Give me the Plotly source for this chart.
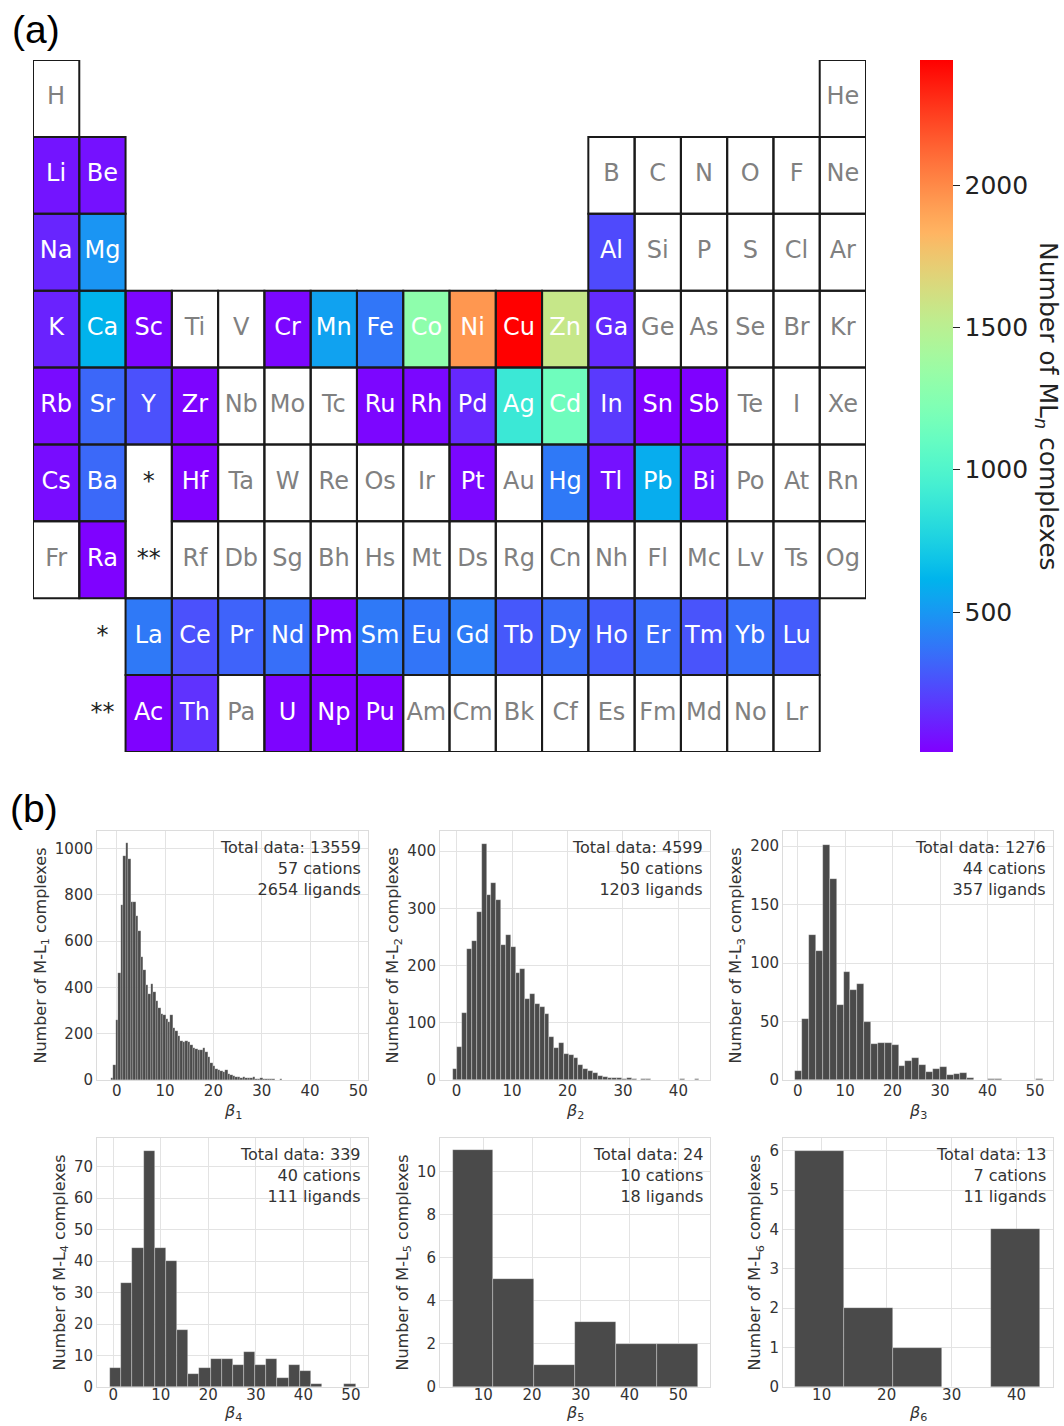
import numpy as np
import plotly.graph_objects as go

# ---------------- (a) periodic table data ----------------
table_rows = [
    "H . . . . . . . . . . . . . . . . He",
    "Li Be . . . . . . . . . . B C N O F Ne",
    "Na Mg . . . . . . . . . . Al Si P S Cl Ar",
    "K Ca Sc Ti V Cr Mn Fe Co Ni Cu Zn Ga Ge As Se Br Kr",
    "Rb Sr Y Zr Nb Mo Tc Ru Rh Pd Ag Cd In Sn Sb Te I Xe",
    "Cs Ba * Hf Ta W Re Os Ir Pt Au Hg Tl Pb Bi Po At Rn",
    "Fr Ra ** Rf Db Sg Bh Hs Mt Ds Rg Cn Nh Fl Mc Lv Ts Og",
    ". * La Ce Pr Nd Pm Sm Eu Gd Tb Dy Ho Er Tm Yb Lu .",
    ". ** Ac Th Pa U Np Pu Am Cm Bk Cf Es Fm Md No Lr .",
]

ml_counts = {
    "Li": 70, "Be": 60, "Na": 120, "Mg": 490, "Al": 235,
    "K": 110, "Ca": 610, "Sc": 27, "Cr": 30, "Mn": 540, "Fe": 380,
    "Co": 1295, "Ni": 1950, "Cu": 2440, "Zn": 1563, "Ga": 140,
    "Rb": 40, "Sr": 330, "Y": 256, "Zr": 20, "Ru": 25, "Rh": 30,
    "Pd": 130, "Ag": 896, "Cd": 1146, "In": 185, "Sn": 10, "Sb": 12,
    "Cs": 45, "Ba": 335, "Hf": 10, "Pt": 30, "Hg": 390, "Tl": 60,
    "Pb": 585, "Bi": 55, "Ra": 15,
    "La": 390, "Ce": 256, "Pr": 317, "Nd": 355, "Pm": 10, "Sm": 390,
    "Eu": 378, "Gd": 400, "Tb": 280, "Dy": 340, "Ho": 290, "Er": 340,
    "Tm": 268, "Yb": 355, "Lu": 293,
    "Ac": 15, "Th": 160, "U": 20, "Np": 8, "Pu": 10,
}
cbar_ticks = [500, 1000, 1500, 2000]

# ---------------- (b) histogram data ----------------
b1_start, b1_width = -1.25, 0.515
b1_counts = [8, 65, 260, 462, 755, 965, 1022, 955, 770, 768,
             708, 645, 530, 475, 410, 370, 415, 380, 340, 310,
             285, 280, 262, 250, 282, 225, 210, 190, 170, 162,
             170, 165, 150, 140, 132, 128, 130, 140, 120, 100,
             75, 60, 48, 45, 38, 35, 42, 25, 20, 16,
             14, 12, 10, 12, 9, 10, 8, 12, 6, 5,
             7, 4, 5, 3, 4, 3, 2, 2, 3, 1,
             2, 1, 1, 0, 1, 1, 0, 1, 0, 1,
             0, 0, 1, 0, 0, 0, 0, 0, 0, 1,
             0, 0, 0, 0, 0, 0, 0, 0, 0, 1]
b2_start, b2_width = -0.72, 0.873
b2_counts = [19, 58, 117, 228, 242, 293, 413, 324, 345, 314,
             235, 253, 233, 187, 194, 141, 151, 133, 127, 116,
             75, 56, 64, 45, 44, 38, 27, 20, 15, 13,
             7, 5, 3, 3, 4, 2, 3, 1, 0, 2,
             1, 0, 0, 0, 0, 0, 0, 1, 0, 0, 1]
b3_start, b3_width = -0.5, 1.45
b3_counts = [8, 52, 124, 110, 201, 172, 64, 92, 77, 82,
             50, 31, 32, 32, 30, 12, 16, 19, 13, 7,
             9, 11, 4, 5, 6, 2, 0, 0, 1, 1,
             0, 0, 0, 0, 0, 1]
b4_start, b4_width = -0.7, 2.35
b4_counts = [6, 33, 44, 75, 44, 40, 18, 4, 6, 9, 9, 7, 11, 7, 9, 3, 7, 5, 1, 0, 0, 1]
b5_start, b5_width = 3.7, 8.38
b5_counts = [11, 5, 1, 3, 2, 2]
b6_start, b6_width = 5.9, 7.54
b6_counts = [6, 2, 1, 0, 4]

total_data = [13559, 4599, 1276, 339, 24, 13]
n_cations = [57, 50, 44, 40, 10, 7]
n_ligands = [2654, 1203, 357, 111, 18, 11]

# ---------------- figure ----------------
W, H = 1064, 1426
fig = go.Figure()


def rainbow(t):
    r = min(1.0, abs(2 * t - 0.5))
    g = np.sin(np.pi * t)
    b = np.cos(np.pi * t / 2)
    return "rgb(%d,%d,%d)" % (round(r * 255), round(g * 255), round(max(b, 0) * 255))


colorscale = [[t, rainbow(t)] for t in np.linspace(0, 1, 41)]

grid = [row.split() for row in table_rows]
nrow, ncol = len(grid), len(grid[0])
z = [[ml_counts.get(sym) if sym in ml_counts else None for sym in row] for row in grid]
vals = list(ml_counts.values())

fig.add_trace(go.Heatmap(
    z=z, x=list(range(ncol)), y=list(range(nrow)),
    colorscale=colorscale, zmin=min(vals), zmax=max(vals),
    hoverinfo="skip",
    colorbar=dict(
        x=920 / W, xanchor="left", y=1 - 406 / H, yanchor="middle",
        len=692, lenmode="pixels", thickness=33, thicknessmode="pixels",
        xpad=0, ypad=0, outlinewidth=0,
        tickvals=cbar_ticks, ticks="outside", ticklen=7, tickwidth=1.2,
        tickcolor="#222", tickfont=dict(size=25, color="#222", family="DejaVu Sans"),
    ),
    xaxis="x", yaxis="y",
))

tx, ty, tt, tc = [], [], [], []
shapes = []
for r, row in enumerate(grid):
    for c, sym in enumerate(row):
        if sym == ".":
            continue
        tx.append(c); ty.append(r); tt.append(sym)
        if sym in ("*", "**"):
            tc.append("#222222")
            if r < 7 and sym == "*":
                shapes.append(dict(type="rect", xref="x", yref="y", x0=c - 0.5, x1=c + 0.5,
                                   y0=r - 0.5, y1=r + 1.5, line=dict(color="#1a1a1a", width=2),
                                   layer="above"))
            continue
        tc.append("white" if sym in ml_counts else "#808080")
        shapes.append(dict(type="rect", xref="x", yref="y", x0=c - 0.5, x1=c + 0.5,
                           y0=r - 0.5, y1=r + 0.5, line=dict(color="#1a1a1a", width=2),
                           layer="above"))

fig.add_trace(go.Scatter(
    x=tx, y=ty, text=tt, mode="text", textposition="middle center",
    textfont=dict(size=24, color=tc, family="DejaVu Sans"),
    hoverinfo="skip", showlegend=False, xaxis="x", yaxis="y",
))

layout = dict(
    width=W, height=H, margin=dict(l=0, r=0, t=0, b=0, autoexpand=False),
    paper_bgcolor="white", plot_bgcolor="white", showlegend=False,
    xaxis=dict(domain=[33 / W, 866 / W], range=[-0.5, ncol - 0.5], visible=False,
               fixedrange=True, automargin=False),
    yaxis=dict(domain=[1 - 752 / H, 1 - 60 / H], range=[nrow - 0.5, -0.5], visible=False,
               fixedrange=True, automargin=False),
    shapes=shapes,
)

annotations = [
    dict(text="(a)", xref="paper", yref="paper", x=10 / W, y=1 - 6 / H, xanchor="left", yanchor="top",
         showarrow=False, font=dict(size=39, color="black", family="Liberation Sans")),
    dict(text="(b)", xref="paper", yref="paper", x=8 / W, y=1 - 785 / H, xanchor="left", yanchor="top",
         showarrow=False, font=dict(size=39, color="black", family="Liberation Sans")),
    dict(text="Number of ML<sub><i>n</i></sub> complexes", xref="paper", yref="paper",
         x=1047 / W, y=1 - 406 / H, xanchor="center", yanchor="middle", textangle=90,
         showarrow=False, font=dict(size=25, color="#222", family="DejaVu Sans")),
]

hists = [
    (b1_start, b1_width, b1_counts),
    (b2_start, b2_width, b2_counts),
    (b3_start, b3_width, b3_counts),
    (b4_start, b4_width, b4_counts),
    (b5_start, b5_width, b5_counts),
    (b6_start, b6_width, b6_counts),
]
xdoms = [(97, 368), (440, 710), (783, 1053)]
ydoms = [(831, 1080), (1138, 1387)]
xtitle_bottom = [1124, 1426]
tick_standoff = [-3, -6]
xranges = [[-4.1, 52.0], [-3.0, 45.7], [-3.1, 53.8], [-3.44, 53.6], [1.12, 56.5], [4.05, 45.6]]
yranges = [[0, 1075], [0, 435], [0, 213], [0, 79.1], [0, 11.55], [0, 6.32]]
xticks = [list(range(0, 51, 10)), list(range(0, 41, 10)), list(range(0, 51, 10)),
          list(range(0, 51, 10)), list(range(10, 51, 10)), list(range(10, 41, 10))]
yticks = [list(range(0, 1001, 200)), list(range(0, 401, 100)), list(range(0, 201, 50)),
          list(range(0, 71, 10)), list(range(0, 11, 2)), list(range(0, 7, 1))]

tickfont = dict(size=15, color="#333", family="DejaVu Sans")
for i, (start, width, counts) in enumerate(hists):
    k = i + 2
    n = i + 1
    centers = start + (np.arange(len(counts)) + 0.5) * width
    fig.add_trace(go.Bar(
        x=centers, y=counts, width=width,
        marker=dict(color="#4a4a4a", line=dict(color="rgba(255,255,255,0.5)", width=0.6 if i else 0.35)),
        hoverinfo="skip", xaxis="x%d" % k, yaxis="y%d" % k,
    ))
    xd = xdoms[i % 3]
    yd = ydoms[i // 3]
    layout["xaxis%d" % k] = dict(
        domain=[xd[0] / W, xd[1] / W], anchor="y%d" % k, range=xranges[i],
        tickvals=xticks[i], tickfont=tickfont, showgrid=True, gridcolor="#e3e3e3",
        gridwidth=1, zeroline=False, showline=True, linecolor="#dcdcdc", mirror=True,
        ticks="", fixedrange=True, automargin=False, ticklabelstandoff=tick_standoff[i // 3],
    )
    layout["yaxis%d" % k] = dict(
        domain=[1 - yd[1] / H, 1 - yd[0] / H], anchor="x%d" % k, range=yranges[i],
        tickvals=yticks[i], tickfont=tickfont, showgrid=True, gridcolor="#e3e3e3",
        gridwidth=1, zeroline=False, showline=True, linecolor="#dcdcdc", mirror=True,
        ticks="", fixedrange=True, automargin=False,
        title=dict(text="Number of M-L<sub>%d</sub> complexes" % n,
                   font=dict(size=16, color="#333", family="DejaVu Sans"), standoff=4),
    )
    annotations.append(dict(
        text="<i>β</i><sub>%d</sub>" % n, xref="x%d domain" % k, yref="paper",
        x=0.5, y=1 - xtitle_bottom[i // 3] / H, xanchor="center", yanchor="bottom", showarrow=False,
        font=dict(size=16, color="#333", family="DejaVu Sans"),
    ))
    annotations.append(dict(
        text="Total data: %d<br>%d cations<br>%d ligands" % (total_data[i], n_cations[i], n_ligands[i]),
        xref="x%d domain" % k, yref="y%d domain" % k, x=0.98, y=0.978,
        xanchor="right", yanchor="top", align="right", showarrow=False,
        font=dict(size=16, color="#333", family="DejaVu Sans"),
    ))

layout["annotations"] = annotations
layout["bargap"] = 0
fig.update_layout(**layout)

fig.write_html("out.html", config={"displayModeBar": False},
               post_script="document.body.style.margin='0';")
